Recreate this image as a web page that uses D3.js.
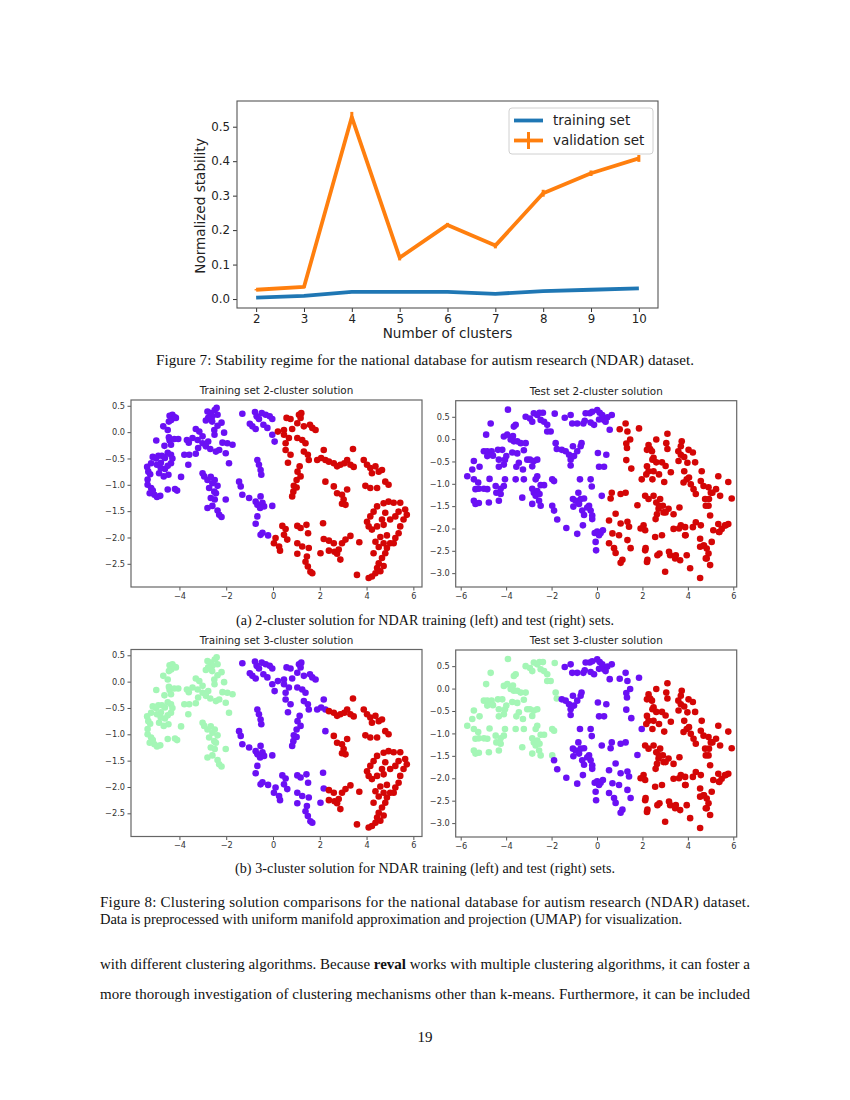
<!DOCTYPE html>
<html><head><meta charset="utf-8">
<script src="https://cdn.jsdelivr.net/npm/d3@7"></script>
<style>body{margin:0;background:#fff} svg{display:block}</style>
</head><body>
<svg id="page" width="850" height="1100"></svg>
<script>
// ---------- DATA ----------
const clusters=[2,3,4,5,6,7,8,9,10];
const trainingStability=[0.004,0.009,0.021,0.021,0.021,0.015,0.023,0.027,0.031];
const validationStability=[0.027,0.035,0.528,0.120,0.215,0.155,0.307,0.365,0.408];
const validationError=[0.002,0.003,0.015,0.008,0.006,0.008,0.010,0.008,0.010];
const stabilityYTicks=[0.0,0.1,0.2,0.3,0.4,0.5];
const seriesNames=["training set","validation set"];

const trainXTicks=[-4,-2,0,2,4,6];
const trainYTicks=[0.5,0.0,-0.5,-1.0,-1.5,-2.0,-2.5];
const testXTicks=[-6,-4,-2,0,2,4,6];
const testYTicks=[0.5,0.0,-0.5,-1.0,-1.5,-2.0,-2.5,-3.0];

// training set points: A = left group, B = middle-left, C = middle-right, D = right
const trainA=[[-4.42,0.31],[-4.3,0.33],[-4.2,0.28],[-4.35,0.23],[-4.15,0.27],[-4.45,0.2],[-4.69,0.11],[-4.5,0.04],
[-4.99,-0.16],[-4.42,-0.16],[-4.22,-0.13],[-4.05,-0.13],[-4.64,-0.26],[-4.36,-0.24],
[-5.14,-0.47],[-4.9,-0.45],[-4.5,-0.39],[-4.62,-0.49],[-4.36,-0.43],
[-5.38,-0.66],[-5.21,-0.59],[-4.96,-0.62],[-4.79,-0.58],[-4.62,-0.7],[-5.33,-0.75],[-4.87,-0.78],[-4.5,-0.64],[-4.36,-0.59],
[-4.67,-0.84],[-4.47,-0.81],[-3.93,-0.85],
[-5.36,-1.0],[-5.21,-1.06],[-5.27,-1.16],[-5.07,-1.19],[-4.96,-1.23],[-4.82,-1.21],[-5.14,-1.11],[-4.5,-1.09],[-4.19,-1.08],[-4.1,-1.11],[-5.36,-0.9],
[-5.0,-0.5],[-4.75,-0.45],[-5.25,-0.8],[-4.8,-0.68],[-4.3,-0.5],[-4.45,-0.1],
[-2.8,0.39],[-2.66,0.36],[-2.49,0.42],[-2.41,0.46],[-2.59,0.3],[-2.77,0.27],[-2.87,0.22],[-2.37,0.33],[-2.2,0.18],
[-3.3,0.06],[-3.15,0.01],[-2.51,0.04],[-2.37,0.12],[-2.09,-0.01],
[-3.68,-0.15],[-3.44,-0.11],[-3.22,-0.15],[-3.01,-0.21],[-2.87,-0.27],[-2.77,-0.18],[-2.16,-0.2],[-1.95,-0.21],[-1.73,-0.24],[-3.01,-0.08],
[-3.79,-0.43],[-3.58,-0.43],[-3.3,-0.41],[-2.68,-0.32],[-2.44,-0.37],[-2.3,-0.34],[-2.02,-0.4],[-1.88,-0.59],[-3.62,-0.62],
[-3.01,-0.78],[-2.94,-0.84],[-2.8,-0.91],[-2.66,-0.85],[-2.59,-0.97],[-2.49,-0.91],[-2.37,-1.02],[-2.73,-1.06],[-2.51,-1.13],
[-2.66,-1.25],[-2.49,-1.28],[-2.02,-1.28],[-2.8,-1.44],[-2.59,-1.4],[-2.37,-1.49],[-2.3,-1.57],[-2.2,-1.61],[-2.44,-1.16],
[-3.6,-0.2],[-3.2,-0.3],[-2.6,0.2],[-2.5,-0.05]];
const trainB=[[-1.31,0.35],[-0.77,0.38],[-0.48,0.36],[-0.31,0.33],[-0.14,0.3],[-0.03,0.25],[-0.88,0.11],[-0.74,0.06],[-0.99,0.16],
[-0.41,0.14],[-0.24,0.08],[-0.03,-0.05],[0.07,-0.18],[-0.7,0.3],[-0.6,0.25],
[-0.67,-0.53],[-0.6,-0.62],[-0.53,-0.72],[-0.5,-0.81],
[-1.45,-0.94],[-1.38,-1.03],[-1.31,-1.19],[-1.02,-1.25],[-0.74,-1.32],[-0.67,-1.38],[-0.53,-1.22],[-0.45,-1.34],[-0.55,-1.44],
[-0.38,-1.41],[-0.03,-1.4],[-0.74,-1.74],[-0.67,-1.6],[-0.53,-1.95],[-0.45,-1.91],[-0.21,-1.96]];
const trainC=[[0.21,0.01],[0.47,0.04],[0.58,0.27],[0.75,0.25],[1.11,0.33],[1.21,0.36],[1.18,0.27],[1.04,0.17],[0.82,0.06],[1.32,0.11],
[1.58,0.14],[1.68,0.08],[1.82,0.04],[0.47,-0.05],[0.68,-0.11],[0.54,-0.21],[1.04,-0.11],[1.25,-0.15],[1.39,-0.21],[0.54,-0.34],
[0.75,-0.43],[1.32,-0.37],[1.49,-0.43],[1.53,-0.53],[0.64,-0.58],[1.14,-0.65],[1.05,-0.75],[1.18,-0.84],[1.01,-0.91],[0.89,-1.02],
[0.87,-1.13],[0.82,-1.22],[1.01,-1.05],[1.89,-0.53],[2.06,-0.49],[2.17,-0.34],[2.24,-0.53],[2.24,-0.94],
[0.04,-2.11],[0.26,-2.17],[0.3,-2.25],[0.11,-2.01],[0.4,-1.78],[0.54,-1.84],[0.47,-1.95],[0.61,-2.04],[1.04,-1.78],[1.18,-1.82],
[1.43,-1.76],[1.5,-1.92],[1.04,-2.11],[1.25,-2.17],[1.53,-2.2],[1.04,-2.31],[1.39,-2.46],[1.49,-2.55],[1.6,-2.65],[1.68,-2.68],
[1.45,-2.36],[2.14,-1.73],[2.17,-2.03],[2.03,-2.3]];
const trainD=[[2.39,-0.56],[2.6,-0.59],[2.74,-0.65],[2.88,-0.62],[3.05,-0.59],[3.17,-0.53],[3.42,-0.32],[3.31,-0.62],[3.45,-0.66],
[2.6,-1.03],[2.74,-1.16],[2.95,-1.19],[3.02,-1.28],[2.95,-1.36],[3.1,-1.38],[3.17,-1.09],
[3.88,-0.53],[4.02,-0.62],[4.16,-0.68],[4.23,-0.78],[4.38,-0.65],[4.52,-0.75],[4.66,-0.72],[3.95,-1.02],[4.16,-1.06],[4.45,-1.06],
[4.8,-0.94],[4.94,-1.0],
[4.73,-1.35],[4.94,-1.32],[5.16,-1.34],[5.44,-1.34],[5.65,-1.47],[5.72,-1.57],[5.58,-1.66],[5.44,-1.79],[5.37,-1.92],[5.23,-2.01],
[5.01,-2.11],[4.87,-2.2],[4.8,-2.3],[4.66,-2.39],[4.52,-2.49],[4.45,-2.58],[4.38,-2.68],[4.23,-2.74],[4.09,-2.77],[3.59,-2.71],
[4.59,-2.64],[4.73,-2.54],[4.45,-1.41],[4.3,-1.51],[4.16,-1.6],[4.02,-1.7],[4.09,-1.79],[4.23,-1.85],[4.45,-1.79],[4.73,-1.76],
[5.01,-1.66],[5.23,-1.6],[5.37,-1.51],[4.8,-1.53],[4.59,-1.99],[4.73,-2.11],[4.52,-2.18],[4.38,-2.08],[4.87,-1.96],[5.16,-2.11],
[4.3,-2.3],[4.66,-1.66],
[2.39,-2.06],[2.6,-2.11],[2.39,-2.25],[2.63,-2.27],[2.74,-2.31],[2.81,-2.23],[2.95,-2.11],[3.1,-2.04],[3.31,-1.97],[3.69,-2.09],[2.88,-2.42]];

// test set points
const testA=[[-3.92,0.66],[-4.68,0.35],[-4.88,0.1],
[-5.71,-0.83],[-5.42,-0.49],[-5.49,-0.68],[-5.17,-0.62],[-5.42,-0.9],[-5.23,-0.97],[-5.35,-1.12],[-5.2,-1.11],[-4.98,-1.11],
[-4.83,-1.12],[-5.42,-1.38],[-5.35,-1.45],[-5.2,-1.43],[-4.76,-1.42],[-4.73,-0.89],
[-4.98,-0.27],[-4.83,-0.27],[-4.64,-0.27],[-4.83,-0.38],[-4.58,-0.37],[-4.36,-0.24],[-4.17,-0.24],[-4.32,-0.46],[-4.32,-0.62],
[-4.1,-0.57],[-4.05,-0.46],[-4.46,-1.05],[-4.43,-1.2],[-4.24,-1.23],[-4.24,-1.11],[-4.1,-1.05],[-4.32,-1.38],[-4.05,-0.9],
[-4.1,0.06],[-3.95,0.1],[-3.8,-0.01],[-3.7,0.07],[-3.66,-0.05],[-3.51,-0.05],[-3.36,-0.09],[-3.14,-0.09],[-3.66,0.28],[-3.58,0.32],
[-3.99,-0.38],[-3.73,-0.3],[-3.51,-0.32],[-3.55,-0.62],[-3.44,-0.53],[-3.26,-0.68],[-3.22,-0.25],
[-3.14,0.5],[-2.95,0.46],[-2.85,0.39],[-2.78,0.58],[-2.63,0.54],[-2.53,0.59],[-2.38,0.59],[-2.48,0.43],[-2.33,0.39],[-2.19,0.32],
[-2.04,0.17],[-1.86,0.57],[-2.19,0.17],[-1.82,-0.09],[-1.77,-0.22],
[-3.58,-0.9],[-3.22,-0.9],[-3.07,-0.46],[-2.95,-0.46],[-2.78,-0.49],[-2.85,-0.61],[-2.63,-0.46],[-2.63,-0.83],[-2.7,-0.9],
[-2.85,-1.11],[-2.78,-1.2],[-2.63,-1.16],[-2.7,-1.27],[-2.53,-1.23],[-2.48,-1.03],[-2.33,-1.03],[-2.55,-1.38],[-2.48,-1.49],
[-2.85,-1.45],[-3.29,-1.31],[-1.97,-0.9],[-1.89,-0.94],[-1.97,-1.49]];
const testB=[[-1.42,0.48],[-1.16,0.54],[-1.09,0.35],[-0.87,0.35],[-0.6,0.35],[-0.54,0.41],[-0.32,0.58],[-0.21,0.61],[-0.5,0.58],
[-0.28,0.37],[-0.13,0.32],[0.01,0.65],[0.12,0.59],[0.23,0.54],[0.09,0.44],[0.31,0.43],[0.46,0.49],[0.65,0.54],[0.56,0.21],[0.38,0.39],
[-1.55,-0.24],[-1.38,-0.27],[-1.23,-0.35],[-1.16,-0.46],[-1.16,-0.59],[-1.01,-0.38],[-0.87,-0.27],[-0.72,-0.16],[-0.68,-0.09],[-1.06,-0.16],
[0.04,-0.31],[0.41,-0.35],[0.09,-0.62],[0.31,-0.62],[-0.23,-1.06],[-0.28,-0.9],[-0.75,-0.9],[-0.82,-1.2],
[-1.06,-1.34],[-0.94,-1.38],[-0.72,-1.34],[-0.57,-1.33],[-0.79,-1.45],[-0.65,-1.6],[-0.57,-1.7],[-0.62,-1.93],[-0.87,-2.12],
[-1.35,-1.99],[-1.04,-1.51],[-0.35,-1.49],[-0.28,-1.6],[-0.21,-1.71],[-0.21,-1.79],[-0.43,-1.53],[0.21,-1.27],
[-0.1,-2.1],[0.01,-2.07],[0.16,-2.1],[0.26,-2.04],[0.09,-2.15],[-0.06,-2.3],[-0.04,-2.49],[-1.89,-1.6],[-1.75,-1.8]];
const testC=[[1.0,0.22],[1.26,0.35],[1.34,0.17],[1.85,0.24],[1.29,-0.1],[1.29,-0.47],[1.51,-0.66],[1.46,-0.01],[1.32,-0.2],
[0.65,-1.2],[0.6,-1.33],[1.04,-1.23],[1.26,-1.2],[1.78,-1.48],[0.82,-1.67],[0.53,-1.82],[1.04,-1.89],[1.34,-1.85],[1.41,-1.96],
[0.68,-2.11],[0.97,-2.15],[0.53,-2.33],[0.75,-2.44],[0.82,-2.55],[1.12,-2.7],[1.04,-2.77],[1.34,-2.26],[1.48,-2.44],[1.97,-0.9]];
const testD=[[3.1,0.12],[2.61,-0.01],[2.27,-0.13],[2.34,-0.22],[2.42,-0.27],[2.2,-0.24],[3.05,-0.09],[3.1,-0.22],[3.73,-0.05],
[3.69,-0.16],[4.03,-0.24],[4.22,-0.3],[3.69,-0.35],[3.84,-0.4],[2.49,-0.42],[2.61,-0.52],[2.86,-0.52],[2.2,-0.61],[2.27,-0.72],
[2.49,-0.72],[2.17,-0.79],[2.96,-0.96],[3.25,-0.74],[3.59,-0.49],[3.98,-0.53],[4.32,-0.52],[4.61,-0.72],[4.57,-0.94],[3.84,-0.72],
[3.95,-0.9],[3.81,-0.97],[4.13,-1.01],[4.25,-1.12],[4.69,-1.05],[4.91,-1.08],[5.01,-1.2],[4.76,-1.34],[4.91,-1.49],[4.98,-1.71],
[5.34,-0.83],[5.78,-0.96],[5.42,-1.27],[5.93,-1.33],[5.24,-1.12],
[2.12,-1.27],[2.27,-1.34],[2.49,-1.27],[2.61,-1.42],[2.78,-1.34],[2.9,-1.49],[2.71,-1.56],[2.93,-1.64],[2.64,-1.68],[3.15,-1.56],
[3.37,-1.68],[3.63,-1.53],[3.88,-1.97],[3.69,-1.93],[3.37,-2.01],[4.22,-1.97],[4.57,-1.93],[3.88,-2.15],[2.05,-1.93],[2.12,-2.04],
[2.56,-2.19],[2.86,-2.15],[2.75,-2.56],[2.12,-2.49],[2.2,-2.75],[3.0,-2.97],[3.22,-2.6],[3.44,-2.67],[3.66,-2.71],[3.95,-2.6],
[4.1,-2.89],[4.54,-3.11],[4.69,-2.38],[4.83,-2.45],[4.91,-2.56],[4.83,-2.67],[4.98,-2.82],[5.05,-2.3],[5.34,-1.9],[5.49,-2.01],
[5.64,-1.93],[5.78,-1.9],[5.39,-2.08],[5.12,-2.04],[4.54,-2.23],[4.54,-2.41],[1.92,-2.0],[2.14,-2.44],[2.22,-2.7],
[2.44,-0.46],[2.44,-0.9],[2.73,-0.79],[3.02,-0.6],[3.58,-0.27],[4.05,-0.86],[4.35,-1.23],[5.08,-1.2],[4.93,-1.34],[4.79,-1.49],
[5.37,-2.08],[5.67,-1.93],[4.71,-2.38],[4.79,-2.67],[4.35,-1.86],[2.73,-1.49],[3.02,-1.64],[2.58,-1.79],[3.61,-2.0],[3.9,-2.15],
[3.47,-2.6],[3.17,-2.52],[2.66,-2.6]];

const subTitles=["Training set 2-cluster solution","Test set 2-cluster solution","Training set 3-cluster solution","Test set 3-cluster solution"];

// ---------- DRAW ----------
const svg=d3.select("#page");
const SANS="DejaVu Sans, sans-serif";
const SERIF="Liberation Serif, 'DejaVu Serif', serif";
const PURPLE="#6a10f4", RED="#d40606", GREEN="#a4f6b6";

// ---- Figure 7: stability line chart ----
(function(){
  const L=237,R=658,T=101,B=308;
  const x=d3.scaleLinear().domain([1.6,10.4]).range([L,R]);
  const y=d3.scaleLinear().domain([-0.026,0.5746]).range([B,T]);
  const g=svg.append("g");
  const xa=g.append("g").attr("transform",`translate(0,${B})`)
    .call(d3.axisBottom(x).tickValues(clusters).tickFormat(d3.format("d")).tickSize(4).tickPadding(3));
  const ya=g.append("g").attr("transform",`translate(${L},0)`)
    .call(d3.axisLeft(y).tickValues(stabilityYTicks).tickFormat(d3.format(".1f")).tickSize(4).tickPadding(3));
  [xa,ya].forEach(a=>{a.select(".domain").remove();
    a.selectAll("text").attr("font-family",SANS).attr("font-size",11.8).attr("fill","#222");
    a.selectAll("line").attr("stroke","#333");});
  const line=d3.line().x((d,i)=>x(clusters[i])).y(d=>y(d));
  g.append("path").datum(trainingStability).attr("d",line).attr("fill","none")
    .attr("stroke","#1f77b4").attr("stroke-width",3.8).attr("stroke-linejoin","round");
  g.append("path").datum(validationStability).attr("d",line).attr("fill","none")
    .attr("stroke","#ff7f0e").attr("stroke-width",3.8).attr("stroke-linejoin","round");
  g.selectAll(".eb").data(validationStability).enter().append("line")
    .attr("x1",(d,i)=>x(clusters[i])).attr("x2",(d,i)=>x(clusters[i]))
    .attr("y1",(d,i)=>y(d-validationError[i])).attr("y2",(d,i)=>y(d+validationError[i]))
    .attr("stroke","#ff7f0e").attr("stroke-width",3);
  g.append("rect").attr("x",L).attr("y",T).attr("width",R-L).attr("height",B-T)
    .attr("fill","none").attr("stroke","#555").attr("stroke-width",1.1);
  // legend
  const lg=g.append("g");
  lg.append("rect").attr("x",509).attr("y",108).attr("width",144).attr("height",46).attr("rx",3)
    .attr("fill","#fff").attr("fill-opacity",0.85).attr("stroke","#d0d0d0");
  lg.append("line").attr("x1",514).attr("x2",543).attr("y1",120.5).attr("y2",120.5).attr("stroke","#1f77b4").attr("stroke-width",3.8);
  lg.append("line").attr("x1",514).attr("x2",543).attr("y1",140.5).attr("y2",140.5).attr("stroke","#ff7f0e").attr("stroke-width",3.8);
  lg.append("line").attr("x1",528.5).attr("x2",528.5).attr("y1",132).attr("y2",149).attr("stroke","#ff7f0e").attr("stroke-width",3);
  seriesNames.forEach((s,i)=>lg.append("text").attr("x",553).attr("y",125+i*20).text(s)
    .attr("font-family",SANS).attr("font-size",13.5).attr("fill","#222"));
  g.append("text").attr("x",(L+R)/2).attr("y",338).attr("text-anchor","middle").text("Number of clusters")
    .attr("font-family",SANS).attr("font-size",13.6).attr("fill","#222");
  g.append("text").attr("transform",`translate(205,206) rotate(-90)`).attr("text-anchor","middle").text("Normalized stability")
    .attr("font-family",SANS).attr("font-size",13.6).attr("fill","#222");
})();

// ---- scatter panels ----
function scatter(cfg){
  const {L,R,T,B,xd,yd,xt,yt,title,groups}=cfg;
  const x=d3.scaleLinear().domain(xd).range([L,R]);
  const y=d3.scaleLinear().domain(yd).range([B,T]);
  const g=svg.append("g");
  groups.forEach(([pts,col])=>{
    g.append("g").selectAll("circle").data(pts).enter().append("circle")
      .attr("cx",d=>x(d[0])).attr("cy",d=>y(d[1])).attr("r",3.3).attr("fill",col);
  });
  const xa=g.append("g").attr("transform",`translate(0,${B})`)
    .call(d3.axisBottom(x).tickValues(xt).tickFormat(d3.format("d")).tickSize(3.5).tickPadding(2.5));
  const ya=g.append("g").attr("transform",`translate(${L},0)`)
    .call(d3.axisLeft(y).tickValues(yt).tickFormat(d3.format(".1f")).tickSize(3.5).tickPadding(2.5));
  [xa,ya].forEach(a=>{a.select(".domain").remove();
    a.selectAll("text").attr("font-family",SANS).attr("font-size",8.2).attr("fill","#333");
    a.selectAll("line").attr("stroke","#555");});
  g.append("rect").attr("x",L).attr("y",T).attr("width",R-L).attr("height",B-T)
    .attr("fill","none").attr("stroke","#666").attr("stroke-width",1.2);
  g.append("text").attr("x",(L+R)/2).attr("y",T-6).attr("text-anchor","middle").text(title)
    .attr("font-family",SANS).attr("font-size",10.4).attr("fill","#222");
}
const trXd=[-6.07,6.37], trYd=[-2.94,0.61], teXd=[-6.22,6.15], teYd=[-3.31,0.86];
scatter({L:131,R:422,T:400,B:587,xd:trXd,yd:trYd,xt:trainXTicks,yt:trainYTicks,title:subTitles[0],
  groups:[[trainA,PURPLE],[trainB,PURPLE],[trainC,RED],[trainD,RED]]});
scatter({L:455.7,R:736.7,T:400.7,B:587,xd:teXd,yd:teYd,xt:testXTicks,yt:testYTicks,title:subTitles[1],
  groups:[[testA,PURPLE],[testB,PURPLE],[testC,RED],[testD,RED]]});
scatter({L:131,R:422,T:649.5,B:836.5,xd:trXd,yd:trYd,xt:trainXTicks,yt:trainYTicks,title:subTitles[2],
  groups:[[trainA,GREEN],[trainB,PURPLE],[trainC,PURPLE],[trainD,RED]]});
scatter({L:455.7,R:736.7,T:650,B:837,xd:teXd,yd:teYd,xt:testXTicks,yt:testYTicks,title:subTitles[3],
  groups:[[testA,GREEN],[testB,PURPLE],[testC,PURPLE],[testD,RED]]});

// ---- page text ----
function txt(x,y,s,opt={}){
  const t=svg.append("text").attr("x",x).attr("y",y).attr("font-family",SERIF)
    .attr("font-size",opt.size||15).attr("fill","#111").attr("text-anchor",opt.anchor||"start");
  if(opt.len){t.attr("textLength",opt.len).attr("lengthAdjust","spacing");}
  if(Array.isArray(s)){s.forEach(p=>t.append("tspan").text(p[0]).attr("font-weight",p[1]?"bold":null));}
  else t.text(s);
  return t;
}
txt(425,365,"Figure 7: Stability regime for the national database for autism research (NDAR) dataset.",{anchor:"middle",size:15.1,len:538});
txt(425,625,"(a) 2-cluster solution for NDAR training (left) and test (right) sets.",{anchor:"middle",size:14.1,len:378});
txt(425,873,"(b) 3-cluster solution for NDAR training (left) and test (right) sets.",{anchor:"middle",size:14.1,len:380});
txt(100,907,"Figure 8: Clustering solution comparisons for the national database for autism research (NDAR) dataset.",{size:15,len:650});
txt(100,924,"Data is preprocessed with uniform manifold approximation and projection (UMAP) for visualization.",{size:14.5,len:582});
txt(100,969,[["with different clustering algorithms. Because ",false],["reval",true],[" works with multiple clustering algorithms, it can foster a",false]],{size:15,len:650});
txt(100,999,"more thorough investigation of clustering mechanisms other than k-means. Furthermore, it can be included",{size:15,len:650});
txt(425,1042,"19",{anchor:"middle",size:15});
</script>
</body></html>
